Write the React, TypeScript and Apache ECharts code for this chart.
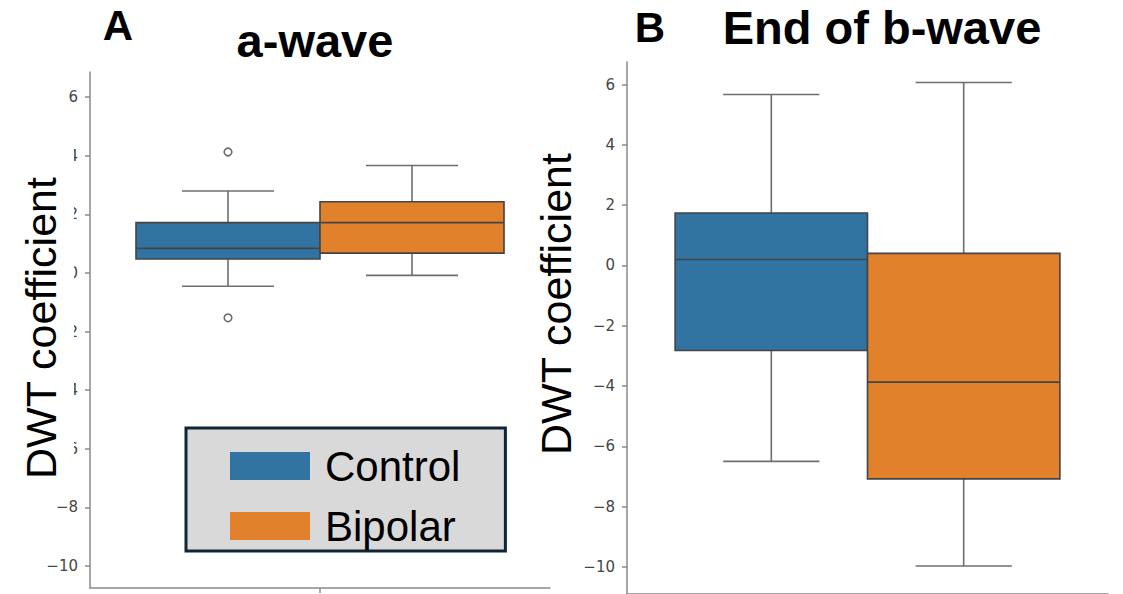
import React, { useEffect, useRef } from "react";
import * as echarts from "echarts";

const categories = [""];
const tickValues = [-10, -8, -6, -4, -2, 0, 2, 4, 6];
const seriesNames = ["Control", "Bipolar"];
const colors = ["#3274A1", "#E1812C"];
// [lower whisker, Q1, median, Q3, upper whisker]
const aWaveControl = [-0.45, 0.48, 0.84, 1.72, 2.8];
const aWaveBipolar = [-0.08, 0.68, 1.72, 2.43, 3.67];
const aWaveControlOutliers = [4.13, -1.53];
const bWaveControl = [-6.5, -2.82, 0.2, 1.74, 5.67];
const bWaveBipolar = [-9.97, -7.08, -3.87, 0.4, 6.07];

const fmt = (v: number) => (v < 0 ? "\u2212" + Math.abs(v) : String(v));

const makeBoxRender = (slot: number) => (params: any, api: any) => {
  const band = api.size([1, 0])[0];
  const cat = api.value(0);
  const w = 0.4 * band;
  const cx = api.coord([cat, 0])[0] + (slot - 0.5) * w;
  const y = (i: number) => api.coord([cat, api.value(i)])[1];
  const lo = y(1), q1 = y(2), med = y(3), q3 = y(4), hi = y(5);
  const whisker = { stroke: "#6e6e6e", lineWidth: 1.6 };
  const edge = { stroke: "#444444", lineWidth: 1.6 };
  return {
    type: "group",
    children: [
      { type: "line", shape: { x1: cx, y1: q3, x2: cx, y2: hi }, style: whisker },
      { type: "line", shape: { x1: cx, y1: q1, x2: cx, y2: lo }, style: whisker },
      { type: "line", shape: { x1: cx - w / 4, y1: hi, x2: cx + w / 4, y2: hi }, style: whisker },
      { type: "line", shape: { x1: cx - w / 4, y1: lo, x2: cx + w / 4, y2: lo }, style: whisker },
      {
        type: "rect",
        shape: { x: cx - w / 2, y: q3, width: w, height: q1 - q3 },
        style: { fill: api.visual("color"), ...edge },
      },
      { type: "line", shape: { x1: cx - w / 2, y1: med, x2: cx + w / 2, y2: med }, style: edge },
    ],
  };
};

const makeOutlierRender = (slot: number) => (params: any, api: any) => {
  const band = api.size([1, 0])[0];
  const cat = api.value(0);
  const w = 0.4 * band;
  const p = api.coord([cat, api.value(1)]);
  return {
    type: "circle",
    shape: { cx: p[0] + (slot - 0.5) * w, cy: p[1], r: 3.8 },
    style: { fill: "#ffffff", stroke: "#6e6e6e", lineWidth: 1.6 },
  };
};

const axisColor = "#8a8a8a";

const makeYAxis = (gridIndex: number, min: number, max: number) => ({
  type: "value",
  gridIndex,
  min,
  max,
  splitLine: { show: false },
  axisLine: { show: true, lineStyle: { color: axisColor, width: 1.5 } },
  axisTick: { show: true, length: 5, customValues: tickValues, lineStyle: { color: axisColor, width: 1.5 } },
  axisLabel: {
    customValues: tickValues,
    formatter: fmt,
    color: "#454545",
    fontSize: 15,
    fontFamily: "DejaVu Sans",
    margin: 12,
  },
});

const makeXAxis = (gridIndex: number) => ({
  type: "category",
  gridIndex,
  data: categories,
  axisLine: { show: true, onZero: false, lineStyle: { color: axisColor, width: 1.5 } },
  axisTick: { show: true, alignWithLabel: true, length: 5, lineStyle: { color: axisColor, width: 1.5 } },
  axisLabel: { show: false },
  splitLine: { show: false },
});

const boxSeries = (name: string, slot: number, values: number[], axisIndex: number) => ({
  type: "custom",
  name,
  xAxisIndex: axisIndex,
  yAxisIndex: axisIndex,
  itemStyle: { color: colors[slot] },
  renderItem: makeBoxRender(slot),
  encode: { x: 0, y: [1, 2, 3, 4, 5] },
  data: [[0, ...values]],
  z: 2,
});

export default function App() {
  const ref = useRef<HTMLDivElement>(null);
  useEffect(() => {
    if (!ref.current) return;
    const chart = echarts.init(ref.current, undefined, { renderer: "svg" });
    const titleFont = "Liberation Sans, Arial, sans-serif";
    chart.setOption({
      animation: false,
      grid: [
        { left: 90, top: 72, width: 460, height: 516 },
        { left: 627, top: 62, width: 481, height: 538 },
      ],
      xAxis: [makeXAxis(0), makeXAxis(1)],
      yAxis: [makeYAxis(0, -10.75, 6.86), makeYAxis(1, -10.9, 6.75)],
      legend: {
        orient: "vertical",
        left: 186,
        top: 428,
        padding: [17, 45, 4, 44],
        itemGap: 18,
        itemWidth: 80,
        itemHeight: 28,
        backgroundColor: "#d9d9d9",
        borderColor: "#102536",
        borderWidth: 3,
        borderRadius: 0,
        textStyle: {
          fontSize: 42,
          color: "#000000",
          fontFamily: titleFont,
          padding: [0, 0, 0, 10],
        },
        data: seriesNames.map((n, i) => ({ name: n, icon: "rect", itemStyle: { color: colors[i], borderWidth: 0 } })),
        selectedMode: false,
        z: 10,
      },
      graphic: [
        { type: "text", z: 100, x: 118, y: 25, style: { text: "A", font: `bold 42px ${titleFont}`, fill: "#000", align: "center", verticalAlign: "middle" } },
        { type: "text", z: 100, x: 315, y: 40, style: { text: "a-wave", font: `bold 47px ${titleFont}`, fill: "#000", align: "center", verticalAlign: "middle" } },
        { type: "text", z: 100, x: 650, y: 27, style: { text: "B", font: `bold 42px ${titleFont}`, fill: "#000", align: "center", verticalAlign: "middle" } },
        { type: "text", z: 100, x: 882, y: 27, style: { text: "End of b-wave", font: `bold 47px ${titleFont}`, fill: "#000", align: "center", verticalAlign: "middle" } },
        {
          type: "text",
          z: 100,
          x: 41,
          y: 322,
          rotation: Math.PI / 2,
          style: {
            text: "DWT coefficient",
            font: `43px ${titleFont}`,
            fill: "#000",
            align: "center",
            verticalAlign: "middle",
            backgroundColor: "#ffffff",
            padding: [0, 28, 23, 16],
          },
        },
        {
          type: "text",
          z: 100,
          x: 556,
          y: 304,
          rotation: Math.PI / 2,
          style: {
            text: "DWT coefficient",
            font: `43px ${titleFont}`,
            fill: "#000",
            align: "center",
            verticalAlign: "middle",
          },
        },
      ],
      series: [
        boxSeries("Control", 0, aWaveControl, 0),
        boxSeries("Bipolar", 1, aWaveBipolar, 0),
        {
          type: "custom",
          name: "Control",
          xAxisIndex: 0,
          yAxisIndex: 0,
          itemStyle: { color: colors[0] },
          renderItem: makeOutlierRender(0),
          encode: { x: 0, y: 1 },
          data: aWaveControlOutliers.map((v) => [0, v]),
          z: 3,
        },
        boxSeries("Control", 0, bWaveControl, 1),
        boxSeries("Bipolar", 1, bWaveBipolar, 1),
      ],
    });
    return () => chart.dispose();
  }, []);
  return <div ref={ref} style={{ position: "absolute", left: 0, top: 0, width: 1123, height: 594 }} />;
}
